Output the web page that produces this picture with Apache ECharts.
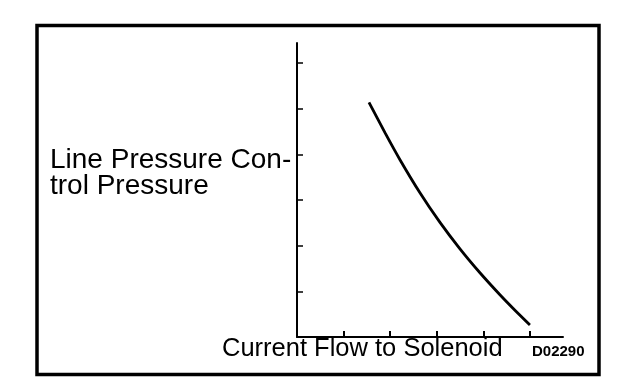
<!DOCTYPE html>
<html>
<head>
<meta charset="utf-8">
<script src="https://cdn.jsdelivr.net/npm/echarts@6/dist/echarts.min.js"></script>
<style>
html,body{margin:0;padding:0;background:#fff;}
#chart{width:624px;height:392px;}
</style>
</head>
<body>
<div id="chart"></div>
<script>
// Data (arbitrary units; unlabeled axes)
const currentFlow = [1.545, 1.888, 2.21, 2.639, 3.069, 3.498, 3.927, 4.356, 4.678, 5.0];
const controlPressure = [5.14, 4.476, 3.884, 3.16, 2.511, 1.932, 1.408, 0.926, 0.587, 0.264];
const xTickValues = [1, 2, 3, 4, 5];
const yTickValues = [1, 2, 3, 4, 5, 6];
const yLabelLines = ['Line Pressure Con-', 'trol Pressure'];
const xLabelText = 'Current Flow to Solenoid';
const codeText = 'D02290';

const FONT = '"Liberation Sans", Arial, Helvetica, sans-serif';
const chart = echarts.init(document.getElementById('chart'), null, {renderer: 'canvas'});
chart.setOption({
  animation: false,
  backgroundColor: '#fff',
  grid: {left: 297, right: 61, top: 43, bottom: 55, containLabel: false},
  xAxis: {
    type: 'value', min: 0, max: 5.71,
    axisLine: {show: true, onZero: false, lineStyle: {color: '#000', width: 2}},
    axisTick: {show: true, inside: true, length: 6, customValues: xTickValues, lineStyle: {color: '#000', width: 2}},
    axisLabel: {show: false},
    splitLine: {show: false}
  },
  yAxis: {
    type: 'value', min: 0, max: 6.44,
    axisLine: {show: true, onZero: false, lineStyle: {color: '#000', width: 2}},
    axisTick: {show: true, inside: true, length: 6, customValues: yTickValues, lineStyle: {color: '#000', width: 1.5}},
    axisLabel: {show: false},
    splitLine: {show: false}
  },
  series: [{
    type: 'line',
    data: currentFlow.map((x, i) => [x, controlPressure[i]]),
    smooth: 0.2,
    showSymbol: false,
    lineStyle: {color: '#000', width: 2.8}
  }],
  graphic: [
    {type: 'rect', shape: {x: 37, y: 25.5, width: 562, height: 349}, style: {fill: 'none', stroke: '#000', lineWidth: 3.5}, silent: true},
    {type: 'text', left: 50, top: 146, style: {text: yLabelLines[0], font: '28px ' + FONT, fill: '#000'}},
    {type: 'text', left: 50, top: 172, style: {text: yLabelLines[1], font: '28px ' + FONT, fill: '#000'}},
    {type: 'text', left: 222, top: 336, style: {text: xLabelText, font: '25.5px ' + FONT, fill: '#000'}},
    {type: 'text', left: 532, top: 344, style: {text: codeText, font: 'bold 15px ' + FONT, fill: '#000'}}
  ]
});
</script>
</body>
</html>
